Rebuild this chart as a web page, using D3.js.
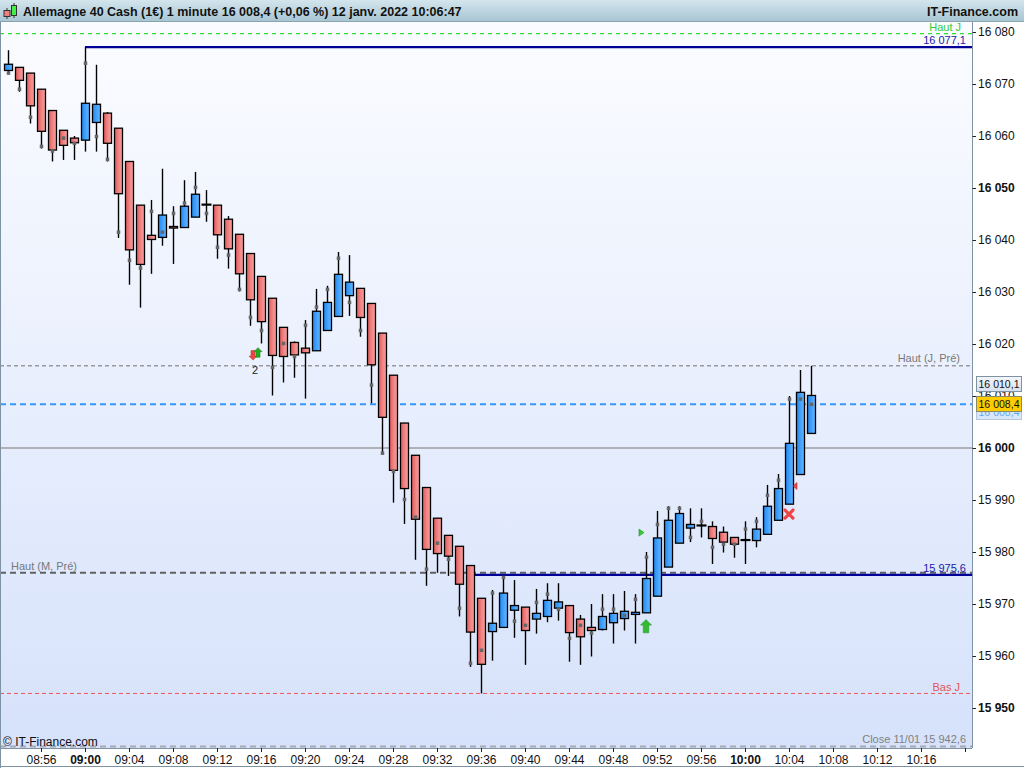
<!DOCTYPE html>
<html><head><meta charset="utf-8">
<script src="https://cdn.jsdelivr.net/npm/d3@7"></script>
<style>
html,body{margin:0;padding:0;background:#fff;}
svg{display:block;font-family:"Liberation Sans",Arial,sans-serif;}
</style></head>
<body>
<svg id="chart" width="1024" height="768"></svg>
<script>
// ---------- DATA ----------
const times = ["08:53","08:54","08:55","08:56","08:57","08:58","08:59","09:00","09:01","09:02","09:03","09:04","09:05","09:06","09:07","09:08","09:09","09:10","09:11","09:12","09:13","09:14","09:15","09:16","09:17","09:18","09:19","09:20","09:21","09:22","09:23","09:24","09:25","09:26","09:27","09:28","09:29","09:30","09:31","09:32","09:33","09:34","09:35","09:36","09:37","09:38","09:39","09:40","09:41","09:42","09:43","09:44","09:45","09:46","09:47","09:48","09:49","09:50","09:51","09:52","09:53","09:54","09:55","09:56","09:57","09:58","09:59","10:00","10:01","10:02","10:03","10:04","10:05","10:06"];
const openV = [16072.6,16073.2,16072.1,16069.0,16064.9,16061.1,16059.6,16059.2,16062.6,16064.4,16061.5,16055.1,16046.7,16040.9,16040.5,16042.6,16042.4,16044.4,16046.8,16046.7,16044.0,16041.1,16037.4,16033.0,16028.8,16023.2,16020.3,16019.2,16018.7,16022.6,16025.3,16029.3,16030.7,16027.8,16022.1,16014.0,16004.8,15998.6,15992.4,15986.5,15983.2,15981.1,15977.4,15971.1,15964.7,15965.5,15968.8,15969.4,15967.1,15967.6,15969.2,15969.7,15967.1,15965.5,15965.1,15966.4,15967.2,15968.0,15968.3,15971.5,15977.1,15981.7,15984.6,15985.1,15984.9,15983.8,15982.8,15982.3,15982.2,15983.4,15986.1,15989.2,15994.9,16002.8];
const highV = [16076.5,16073.2,16072.1,16069.0,16064.9,16061.1,16060.0,16077.1,16073.7,16064.6,16061.5,16055.1,16046.7,16047.7,16053.7,16046.5,16051.5,16053.1,16049.6,16046.7,16044.6,16041.1,16037.4,16033.0,16028.8,16023.2,16020.5,16024.6,16030.6,16031.2,16037.7,16037.1,16030.7,16027.8,16022.1,16014.0,16004.8,15998.6,15992.4,15986.5,15983.2,15981.1,15977.4,15971.1,15972.7,15975.6,15974.6,15969.4,15972.9,15974.0,15974.0,15969.7,15967.9,15970.0,15971.9,15971.9,15972.5,15971.9,15980.0,15987.9,15988.8,15988.8,15988.4,15988.4,15985.9,15984.9,15982.8,15985.9,15986.7,15992.9,15995.0,16010.0,16015.0,16015.8];
const lowV = [16072.1,16068.5,16062.4,16057.6,16055.1,16055.4,16055.4,16057.0,16057.0,16055.1,16040.4,16031.4,16027.0,16033.5,16038.9,16035.4,16042.4,16044.4,16043.5,16036.4,16034.5,16030.1,16023.5,16020.1,16010.1,16012.6,16013.5,16009.5,16018.7,16022.6,16025.3,16025.4,16021.4,16008.6,15999.0,15989.5,15985.4,15978.5,15973.5,15976.0,15975.4,15967.6,15957.9,15952.8,15959.1,15965.5,15963.5,15958.3,15964.3,15966.5,15966.8,15958.9,15958.3,15959.9,15964.9,15962.4,15964.9,15962.4,15968.3,15971.5,15977.1,15981.7,15981.9,15982.8,15977.7,15979.9,15978.9,15977.7,15980.9,15983.4,15986.1,15989.2,15994.9,16002.8];
const closeV = [16073.8,16070.7,16065.8,16060.9,16057.3,16058.2,16058.7,16066.3,16066.1,16058.6,16048.9,16038.1,16035.3,16040.1,16044.8,16042.3,16046.5,16048.8,16046.8,16041.0,16038.3,16033.5,16028.5,16024.3,16017.8,16017.6,16017.9,16018.3,16026.3,16028.0,16033.4,16031.9,16025.1,16016.0,16005.9,15995.7,15992.2,15986.3,15980.5,15979.7,15979.2,15973.8,15964.6,15958.4,15966.3,15972.1,15969.7,15964.9,15968.2,15970.7,15970.4,15964.5,15963.7,15964.9,15967.6,15968.2,15968.6,15968.4,15974.9,15982.7,15986.1,15987.4,15985.3,15985.1,15982.6,15981.9,15981.5,15982.3,15984.4,15988.8,15992.2,16000.9,16010.7,16010.1];
const dotV = [16072.1,16069.0,16063.6,16058.0,16057.1,16059.6,16058.6,16074.0,16059.9,16055.5,16041.5,16036.1,16034.6,16045.5,16041.5,16045.1,16047.1,16050.1,16045.1,16038.6,16037.1,16030.5,16025.1,16022.6,16015.5,16020.1,16017.6,16023.6,16027.1,16030.5,16036.5,16028.0,16022.6,16012.1,15999.0,15995.5,15990.1,15986.7,15976.7,15981.7,15978.6,15969.2,15958.6,15961.1,15972.1,15975.1,15966.7,15965.9,15970.3,15971.9,15969.0,15963.4,15965.9,15964.4,15969.0,15969.0,15967.8,15970.9,15979.0,15985.3,15988.4,15988.4,15982.8,15985.9,15980.9,15981.5,15981.5,15984.4,15985.9,15990.9,15993.8,16009.4,16009.4,16008.4];

const priceTicks = [15950,15960,15970,15980,15990,16000,16010,16020,16030,16040,16050,16060,16070,16080];
const timeTicks = ["08:56","09:00","09:04","09:08","09:12","09:16","09:20","09:24","09:28","09:32","09:36","09:40","09:44","09:48","09:52","09:56","10:00","10:04","10:08","10:12","10:16","10:20"];

const levelNames = ["Haut J","Haut (J, Pré)","Courant","Rond","Haut (M, Pré)","Bas J","Close 11/01"];
const levelValues = [16079.7,16015.8,16008.4,16000,15976.0,15952.8,15942.6];
const supportValues = [16077.1,15975.6];
const supportStart = ["09:00","09:35"];
const lastPrice = 16010.1;
const bidPrice = 16008.4;

const title = "Allemagne 40 Cash (1€) 1 minute 16 008,4 (+0,06 %) 12 janv. 2022 10:06:47";

// ---------- HELPERS ----------
const toMin = s => { const [h,m] = s.split(":").map(Number); return h*60+m; };
const fmtP = (v,dec) => {
  const s = d3.format(dec ? ",.1f" : ",")(v);
  return s.replace(/,/g," ").replace(".",",");
};
const candles = times.map((t,i)=>({t:toMin(t),o:openV[i],h:highV[i],l:lowV[i],c:closeV[i],d:dotV[i]}));

const W=1024,H=768, L=0, R=972, T=22, B=748;
const x = d3.scaleLinear().domain([toMin("09:00"),toMin("10:00")]).range([85,745]);
const y = d3.scaleLinear().domain([15950,16080]).range([708,32]);

const svg = d3.select("#chart");
const defs = svg.append("defs");
function lg(id, stops, vertical){
  const g = defs.append("linearGradient").attr("id",id)
    .attr("x1",0).attr("y1",0).attr("x2",vertical?0:1).attr("y2",vertical?1:0);
  stops.forEach(s=>g.append("stop").attr("offset",s[0]).attr("stop-color",s[1]));
}
lg("bg",[[0,"#fbfcff"],[1,"#d6e2fb"]],true);
lg("titlebar",[[0,"#d3e5ed"],[1,"#a6c4d1"]],true);
lg("red",[[0,"#e25a5a"],[0.6,"#f28a8a"],[1,"#f49c9c"]],false);
lg("blue",[[0,"#1f88f0"],[0.6,"#4aa6ff"],[1,"#66b6ff"]],false);
lg("box",[[0,"#f4f7fb"],[1,"#d6e0ec"]],true);

svg.append("rect").attr("width",W).attr("height",H).attr("fill","#fff");
svg.append("rect").attr("x",L).attr("y",T).attr("width",R-L).attr("height",B-T).attr("fill","url(#bg)");

// title bar
svg.append("rect").attr("x",0).attr("y",0).attr("width",W).attr("height",T).attr("fill","url(#titlebar)");
svg.append("line").attr("x1",0).attr("x2",W).attr("y1",T-0.5).attr("y2",T-0.5).attr("stroke","#8aa3b0");
const ic = svg.append("g");
ic.append("line").attr("x1",7).attr("x2",7).attr("y1",8).attr("y2",19).attr("stroke","#333");
ic.append("rect").attr("x",4).attr("y",10.5).attr("width",6).attr("height",6).attr("fill","#f08080").attr("stroke","#333");
ic.append("line").attr("x1",14).attr("x2",14).attr("y1",3).attr("y2",18).attr("stroke","#333");
ic.append("rect").attr("x",11.5).attr("y",5.5).attr("width",5).attr("height",10).attr("fill","#44ee44").attr("stroke","#333");
svg.append("text").attr("x",23).attr("y",16).attr("font-size",12.5).attr("font-weight","bold").attr("fill","#111").text(title);
svg.append("text").attr("x",1018).attr("y",16).attr("text-anchor","end").attr("font-size",12.5).attr("font-weight","bold").attr("fill","#111").text("IT-Finance.com");

// level lines
const lvlStyle = {
  "Haut J":{c:"#2ee02e",w:1.2,d:"4,4"},
  "Haut (J, Pré)":{c:"#707070",w:1,d:"4,3"},
  "Courant":{c:"#3399ff",w:2,d:"6,4"},
  "Rond":{c:"#b0b0b8",w:2,d:null},
  "Haut (M, Pré)":{c:"#606060",w:2,d:"6,4"},
  "Bas J":{c:"#ee5555",w:1,d:"4,3"},
  "Close 11/01":{c:"#a8a8b0",w:2,d:"6,4"}
};
levelNames.forEach((n,i)=>{
  const s = lvlStyle[n];
  svg.append("line").attr("x1",L).attr("x2",R).attr("y1",y(levelValues[i])).attr("y2",y(levelValues[i]))
    .attr("stroke",s.c).attr("stroke-width",s.w).attr("stroke-dasharray",s.d);
});
supportValues.forEach((v,i)=>{
  svg.append("line").attr("x1",x(toMin(supportStart[i]))).attr("x2",R).attr("y1",y(v)).attr("y2",y(v))
    .attr("stroke","#000099").attr("stroke-width",2.2);
});

const lab = (xx,yy,txt,col,anchor)=>svg.append("text").attr("x",xx).attr("y",yy).attr("font-size",11)
  .attr("fill",col).attr("text-anchor",anchor||"end").text(txt);
lab(961,31,"Haut J","#33cc33");
lab(966,44,fmtP(supportValues[0],true),"#1a1aa8");
lab(960,362,"Haut (J, Pré)","#787878");
lab(11,570,"Haut (M, Pré)","#787878","start");
lab(966,572,fmtP(supportValues[1],true),"#1a1aa8");
lab(960,691,"Bas J","#e05555");
lab(966,743,"Close 11/01 "+fmtP(levelValues[6],true),"#808080");
svg.append("text").attr("x",3).attr("y",746).attr("font-size",12).attr("fill","#111").text("© IT-Finance.com");

// candles
const cw = 8;
const cg = svg.append("g");
candles.forEach(d=>{
  const cx = Math.round(x(d.t))+0.5;
  cg.append("line").attr("x1",cx).attr("x2",cx).attr("y1",y(d.h)).attr("y2",y(d.l)).attr("stroke","#000").attr("stroke-width",1.4);
  if (d.o===d.c){
    cg.append("line").attr("x1",cx-cw/2-1).attr("x2",cx+cw/2+1).attr("y1",y(d.o)).attr("y2",y(d.o)).attr("stroke","#000").attr("stroke-width",2.2);
  } else {
    const top = y(Math.max(d.o,d.c)), bot = y(Math.min(d.o,d.c));
    cg.append("rect").attr("x",cx-cw/2).attr("y",top).attr("width",cw).attr("height",Math.max(bot-top,1.5))
      .attr("fill",d.c>d.o?"url(#blue)":"url(#red)").attr("stroke","#000").attr("stroke-width",1.3);
  }
});
cg.selectAll(".dot").data(candles).enter().append("rect")
  .attr("x",d=>Math.round(x(d.t))+0.5-1.75).attr("y",d=>y(d.d)-1.75).attr("width",3.5).attr("height",3.5).attr("fill","#666");

// signals
function upArrow(cx,ty,col,s){
  s=s||1;
  return svg.append("path").attr("d",`M${cx},${ty} l${5*s},${5*s} h${-2.5*s} v${7*s} h${-5*s} v${-7*s} h${-2.5*s} z`)
    .attr("fill",col).attr("stroke",d3.color(col).darker(0.6)).attr("stroke-width",0.6);
}
function downArrow(cx,by,col,s){
  s=s||1;
  return svg.append("path").attr("d",`M${cx},${by} l${5*s},${-5*s} h${-2.5*s} v${-7*s} h${-5*s} v${7*s} h${-2.5*s} z`)
    .attr("fill",col).attr("stroke",d3.color(col).darker(0.6)).attr("stroke-width",0.6);
}
const x16 = x(toMin("09:16"));
downArrow(x16-8,y(16016.9),"#ee4444",0.8);
upArrow(x16-3,y(16019.3),"#22aa22",0.8);
svg.append("text").attr("x",x16-6).attr("y",y(16015.0)+4).attr("text-anchor","middle").attr("font-size",11).attr("fill","#222").text("2");
const x51 = x(toMin("09:51"));
upArrow(x51,y(15967.0),"#33bb33",1.1);
svg.append("path").attr("d",`M${x51-7},${y(15984.4)} l5,3.5 l-5,3.5 z`).attr("fill","#33cc33").attr("stroke","#119911").attr("stroke-width",0.6);
const x04 = x(toMin("10:04"));
svg.append("path").attr("d",`M${x04-4},${y(15987.3)-4} L${x04+4},${y(15987.3)+4} M${x04+4},${y(15987.3)-4} L${x04-4},${y(15987.3)+4}`)
  .attr("stroke","#ee4444").attr("stroke-width",3.2).attr("stroke-linecap","round");
svg.append("path").attr("d",`M${x04+8},${y(15992.7)-3.5} l-4,3.5 l4,3.5 z`).attr("fill","#ee4444").attr("stroke","#aa2222").attr("stroke-width",0.5);

// frame
svg.append("line").attr("x1",0.5).attr("x2",0.5).attr("y1",T).attr("y2",H).attr("stroke","#7d93a3");
svg.append("line").attr("x1",0).attr("x2",W).attr("y1",H-1.5).attr("y2",H-1.5).attr("stroke","#7d93a3");

// y axis
const yAxis = d3.axisRight(y).tickValues(priceTicks).tickSize(4).tickFormat(v=>fmtP(v,false));
const yg = svg.append("g").attr("transform",`translate(${R},0)`).call(yAxis);
yg.select(".domain").attr("d",`M0.5,${T}V${B}`).attr("stroke","#7d93a3");
yg.selectAll(".tick line").attr("stroke","#222").attr("x1",0.5);
yg.selectAll(".tick text").attr("x",6).attr("font-size",12).attr("fill","#111")
  .attr("font-family","'Liberation Sans',Arial,sans-serif")
  .attr("font-weight",d=>d%50===0?"bold":"normal");

// x axis
const xAxis = d3.axisBottom(x).tickValues(timeTicks.map(toMin)).tickSize(4)
  .tickFormat(v=>{const h=Math.floor(v/60),m=v%60;const s=String(h).padStart(2,"0")+":"+String(m).padStart(2,"0");return v>=toMin("10:20")?"":s;});
const xg = svg.append("g").attr("transform",`translate(0,${B})`).call(xAxis);
xg.select(".domain").attr("d",`M0,0.5H${R}`).attr("stroke","#7d93a3");
xg.selectAll(".tick line").attr("stroke","#222");
xg.selectAll(".tick text").attr("y",7).attr("font-size",12).attr("fill","#111")
  .attr("font-family","'Liberation Sans',Arial,sans-serif")
  .attr("font-weight",d=>d%60===0?"bold":"normal");

// right price boxes
function box(yc,txt,fill,stroke,tcol,op){
  const g = svg.append("g").attr("opacity",op||1);
  g.append("rect").attr("x",976.5).attr("y",Math.round(yc)-7.5).attr("width",45).attr("height",15).attr("fill",fill).attr("stroke",stroke);
  g.append("text").attr("x",978.5).attr("y",Math.round(yc)+4).attr("font-size",11.5).attr("textLength",41).attr("lengthAdjust","spacingAndGlyphs").attr("fill",tcol).text(txt);
}
box(y(bidPrice)+8,fmtP(bidPrice,true),"#d4e3f6","#a8bcd6","#4a9cf0",0.85);
box(y(lastPrice)-11,fmtP(lastPrice,true),"url(#box)","#7d93a3","#111");
box(y(bidPrice),fmtP(bidPrice,true),"#ffcc00","#8a8a6a","#111");
</script>
</body></html>
